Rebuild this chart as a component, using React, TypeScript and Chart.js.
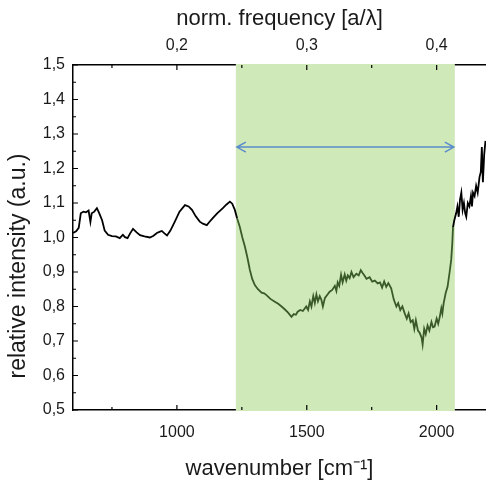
import React, { useEffect, useRef } from "react";
import { Chart, registerables } from "chart.js";

Chart.register(...registerables);

// wavenumber [cm^-1]
const wavenumber = [
  600, 612, 622, 630, 640, 650, 660, 667, 672, 682, 692, 700, 712, 722, 735, 750, 765, 780, 792, 800,
  810, 820, 831, 845, 858, 875, 896, 910, 923, 935, 942, 952, 962, 975, 992, 1010, 1031, 1045, 1058, 1072,
  1088, 1100, 1115, 1125, 1138, 1155, 1177, 1190, 1204, 1213, 1223, 1232, 1242, 1252, 1262, 1272, 1281, 1290, 1300, 1312,
  1326, 1336, 1345, 1360, 1377, 1390, 1403, 1415, 1428, 1441, 1450, 1458, 1465, 1475, 1485, 1498, 1505, 1512, 1518, 1525,
  1531, 1537, 1543, 1550, 1556, 1562, 1570, 1580, 1588, 1598, 1608, 1614, 1619, 1625, 1632, 1638, 1646, 1652, 1658, 1665,
  1672, 1680, 1691, 1700, 1708, 1715, 1722, 1730, 1742, 1752, 1762, 1773, 1782, 1790, 1798, 1806, 1814, 1825, 1835, 1845,
  1852, 1860, 1868, 1877, 1885, 1892, 1900, 1908, 1914, 1920, 1928, 1935, 1942, 1946, 1952, 1958, 1965, 1972, 1980, 1986,
  1992, 2000, 2006, 2012, 2018, 2022, 2027, 2035, 2042, 2050, 2056, 2060, 2063, 2068, 2075, 2080, 2085, 2090, 2095, 2100,
  2105, 2110, 2114, 2120, 2126, 2132, 2136, 2140, 2146, 2152, 2158, 2165, 2170, 2174, 2178, 2183, 2188,
];

// relative intensity (a.u.)
const intensity = [
  1.013, 1.018, 1.028, 1.07, 1.075, 1.073, 1.078, 1.045, 1.07, 1.075, 1.085, 1.072, 1.05, 1.02, 1.008, 1.004, 1.003, 0.998, 1.008, 1.001,
  0.998, 1.012, 1.025, 1.015, 1.007, 1.003, 1.0, 1.005, 1.013, 1.017, 1.019, 1.012, 1.006, 1.02, 1.046, 1.075, 1.094, 1.09, 1.08, 1.062,
  1.046, 1.04, 1.036, 1.045, 1.056, 1.07, 1.085, 1.095, 1.104, 1.098, 1.08, 1.055, 1.031, 1.0, 0.973, 0.94, 0.906, 0.88, 0.862, 0.85,
  0.84, 0.838, 0.833, 0.822, 0.814, 0.808, 0.8, 0.792, 0.782, 0.77, 0.778, 0.776, 0.785, 0.79, 0.787, 0.8, 0.79, 0.815, 0.8, 0.83,
  0.81, 0.835, 0.815, 0.83, 0.82, 0.8, 0.825, 0.835, 0.843, 0.848, 0.86, 0.845, 0.87, 0.86, 0.892, 0.87, 0.893, 0.875, 0.89, 0.882,
  0.9, 0.885, 0.895, 0.89, 0.905, 0.897, 0.89, 0.88, 0.885, 0.872, 0.875, 0.867, 0.87, 0.855, 0.873, 0.857, 0.868, 0.853, 0.82, 0.8,
  0.81, 0.79, 0.8, 0.78, 0.765, 0.78, 0.755, 0.76, 0.735, 0.76, 0.73, 0.723, 0.71, 0.69, 0.735, 0.72, 0.745, 0.73, 0.755, 0.74,
  0.742, 0.765, 0.75, 0.77, 0.795, 0.78, 0.81, 0.84, 0.857, 0.9, 0.935, 0.98, 1.03, 1.05, 1.07, 1.09, 1.06, 1.11, 1.13, 1.08,
  1.1, 1.07, 1.06, 1.1, 1.09, 1.12, 1.09, 1.13, 1.12, 1.15, 1.13, 1.175, 1.19, 1.262, 1.16, 1.24, 1.28,
];

const xMajorTicks = [1000, 1500, 2000];
const xMinorTicks = [750, 1250, 1750];
const topMajorTicks = [0.2, 0.3, 0.4];
const topMinorTicks = [0.15, 0.25, 0.35];
const yMajorTicks = [0.5, 0.6, 0.7, 0.8, 0.9, 1.0, 1.1, 1.2, 1.3, 1.4, 1.5];
const yMinorTicks = [0.55, 0.65, 0.75, 0.85, 0.95, 1.05, 1.15, 1.25, 1.35, 1.45];

const bandStart = 1227;
const bandEnd = 2070;
const arrowY = 1.262;
const xMin = 600;
const xMax = 2190;
const freqFactor = 0.0002; // norm. frequency per wavenumber
const yTitle = "relative intensity (a.u.)";

const FONT = "'Liberation Sans', Arial, Helvetica, sans-serif";
const fmtComma = (v: number) => v.toFixed(1).replace(".", ",");

const bandPlugin = {
  id: "band",
  beforeDatasetsDraw(chart: any) {
    const { ctx, chartArea, scales } = chart;
    const x0 = scales.x.getPixelForValue(bandStart);
    const x1 = scales.x.getPixelForValue(bandEnd);
    ctx.save();
    ctx.fillStyle = "#cfe9b9";
    ctx.fillRect(x0, chartArea.top - 1, x1 - x0, chartArea.bottom - chartArea.top + 2);
    ctx.restore();
  },
  afterDatasetsDraw(chart: any) {
    const { ctx, chartArea, scales } = chart;
    const { x, y, x2 } = scales;
    ctx.save();
    ctx.strokeStyle = "#000";
    ctx.lineWidth = 1.2;
    ctx.beginPath();
    const vt = (px: number, y0: number, len: number) => {
      ctx.moveTo(px, y0);
      ctx.lineTo(px, y0 + len);
    };
    xMajorTicks.forEach((v) => vt(x.getPixelForValue(v), chartArea.bottom, -5));
    xMinorTicks.forEach((v) => vt(x.getPixelForValue(v), chartArea.bottom, -3));
    topMajorTicks.forEach((v) => vt(x2.getPixelForValue(v), chartArea.top, 5));
    topMinorTicks.forEach((v) => vt(x2.getPixelForValue(v), chartArea.top, 3));
    yMajorTicks.forEach((v) => {
      const py = y.getPixelForValue(v);
      ctx.moveTo(chartArea.left, py);
      ctx.lineTo(chartArea.left + 5, py);
    });
    yMinorTicks.forEach((v) => {
      const py = y.getPixelForValue(v);
      ctx.moveTo(chartArea.left, py);
      ctx.lineTo(chartArea.left + 3, py);
    });
    ctx.stroke();

    // double arrow
    const ax0 = x.getPixelForValue(bandStart);
    const ax1 = x.getPixelForValue(bandEnd);
    const ay = y.getPixelForValue(arrowY);
    ctx.strokeStyle = "#5b8ccb";
    ctx.lineWidth = 1.5;
    ctx.beginPath();
    ctx.moveTo(ax0 + 1, ay);
    ctx.lineTo(ax1 - 1, ay);
    ctx.moveTo(ax0 + 10, ay - 5);
    ctx.lineTo(ax0 + 1, ay);
    ctx.lineTo(ax0 + 10, ay + 5);
    ctx.moveTo(ax1 - 10, ay - 5);
    ctx.lineTo(ax1 - 1, ay);
    ctx.lineTo(ax1 - 10, ay + 5);
    ctx.stroke();

    // left axis title (placed like the original, slightly below centre)
    ctx.fillStyle = "#1a1a1a";
    ctx.font = `23px ${FONT}`;
    ctx.textAlign = "center";
    ctx.textBaseline = "middle";
    ctx.translate(19, y.getPixelForValue(0.5) - 144);
    ctx.rotate(-Math.PI / 2);
    ctx.fillText(yTitle, 0, 0);
    ctx.restore();
  },
};

export default function App() {
  const ref = useRef<HTMLCanvasElement | null>(null);

  useEffect(() => {
    if (!ref.current) return;
    const points = wavenumber.map((w, i) => ({ x: w, y: intensity[i] }));
    const axisBase = {
      grid: { display: true, drawOnChartArea: false, drawTicks: false },
      border: { display: true, color: "#000", width: 1.5 },
    };
    const chart = new Chart(ref.current, {
      type: "line",
      data: {
        datasets: [
          {
            data: points,
            borderColor: "#000",
            borderWidth: 1.8,
            pointRadius: 0,
            tension: 0,
            segment: {
              borderColor: (c: any) => {
                const x0 = c.p0.parsed.x;
                return x0 >= bandStart && x0 < bandEnd - 8 ? "#3a5a2a" : "#000";
              },
            },
          },
        ],
      },
      plugins: [bandPlugin],
      options: {
        animation: false,
        responsive: false,
        layout: { padding: 0 },
        plugins: { legend: { display: false }, tooltip: { enabled: false } },
        scales: {
          x: {
            ...axisBase,
            type: "linear",
            position: "bottom",
            min: xMin,
            max: xMax,
            afterBuildTicks: (s: any) => {
              s.ticks = xMajorTicks.map((v) => ({ value: v }));
            },
            afterFit: (s: any) => {
              s.height = 74;
            },
            ticks: {
              font: { size: 16, family: FONT },
              color: "#1a1a1a",
              padding: 13,
              maxRotation: 0,
              autoSkip: false,
              callback: (v: any) => String(v),
            },
            title: {
              display: true,
              text: "wavenumber [cm\u207B\u00B9]",
              font: { size: 22, family: FONT },
              color: "#1a1a1a",
              padding: { top: 0, bottom: 2 },
            },
          },
          x2: {
            ...axisBase,
            type: "linear",
            position: "top",
            min: xMin * freqFactor,
            max: xMax * freqFactor,
            afterBuildTicks: (s: any) => {
              s.ticks = topMajorTicks.map((v) => ({ value: v }));
            },
            afterFit: (s: any) => {
              s.height = 65;
            },
            ticks: {
              font: { size: 16, family: FONT },
              color: "#1a1a1a",
              padding: 10,
              maxRotation: 0,
              autoSkip: false,
              callback: (v: any) => fmtComma(Number(v)),
            },
            title: {
              display: true,
              text: "norm. frequency [a/\u03BB]",
              font: { size: 22, family: FONT },
              color: "#1a1a1a",
              padding: { top: 6, bottom: 0 },
            },
          },
          y: {
            ...axisBase,
            type: "linear",
            position: "left",
            min: 0.5,
            max: 1.5,
            afterBuildTicks: (s: any) => {
              s.ticks = yMajorTicks.map((v) => ({ value: v }));
            },
            afterFit: (s: any) => {
              s.width = 73;
            },
            ticks: {
              font: { size: 16, family: FONT },
              color: "#1a1a1a",
              padding: 8,
              autoSkip: false,
              callback: (v: any) => fmtComma(Number(v)),
            },
            title: { display: false },
          },
        },
      },
    } as any);
    return () => chart.destroy();
  }, []);

  return (
    <div style={{ position: "absolute", left: 0, top: 0, width: 486, height: 484, background: "#fff" }}>
      <canvas ref={ref} width={486} height={484} />
    </div>
  );
}
